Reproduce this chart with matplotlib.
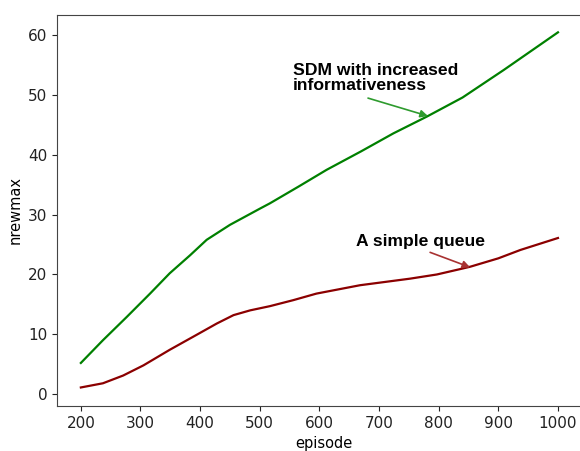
import matplotlib
matplotlib.use("Agg")
import matplotlib.pyplot as plt

# data
sdm_episode = [200, 237, 277, 316, 349, 383, 411, 450, 500, 517, 565, 612, 670, 724, 780, 840, 909, 1000]
sdm_nrewmax = [5.2, 9.0, 12.9, 16.8, 20.2, 23.2, 25.8, 28.3, 31.0, 31.9, 34.7, 37.5, 40.6, 43.6, 46.4, 49.6, 54.2, 60.5]

queue_episode = [200, 237, 271, 305, 349, 394, 428, 456, 484, 517, 556, 595, 668, 752, 797, 836, 853, 900, 937, 1000]
queue_nrewmax = [1.1, 1.8, 3.1, 4.8, 7.4, 9.9, 11.8, 13.2, 14.0, 14.7, 15.7, 16.8, 18.2, 19.3, 20.0, 20.9, 21.3, 22.7, 24.1, 26.1]

x_ticks = [200, 300, 400, 500, 600, 700, 800, 900, 1000]
y_ticks = [0, 10, 20, 30, 40, 50, 60]

fig = plt.figure(figsize=(5.8, 4.51), dpi=100)
ax = fig.add_axes([57 / 580, 45 / 451, 533 / 580, 391 / 451])

ax.plot(sdm_episode, sdm_nrewmax, color="green", lw=1.6)
ax.plot(queue_episode, queue_nrewmax, color="darkred", lw=1.6)

ax.set_xlim(160, 1053.7)
ax.set_ylim(-2.0, 63.4)
ax.set_xticks(x_ticks)
ax.set_yticks(y_ticks)
ax.tick_params(labelsize=11, colors="#222222")
ax.set_xlabel("episode", fontsize=10.5, labelpad=4)
ax.set_ylabel("nrewmax", fontsize=10.5, labelpad=4)
for s in ax.spines.values():
    s.set_color("#444444")
ax.spines["right"].set_visible(False)

ax.text(555.7, 55.35, "SDM with increased\ninformativeness", fontsize=12.6,
        fontweight="bold", family="Liberation Sans", va="top", ha="left",
        linespacing=1.0)
ax.annotate("", xy=(782, 46.5), xytext=(681.5, 49.5),
            arrowprops=dict(arrowstyle="-|>", color="#2e9b2e", lw=1.2,
                            shrinkA=0, shrinkB=0, mutation_scale=11))
ax.text(661.4, 25.5, "A simple queue", fontsize=12.6, fontweight="bold",
        family="Liberation Sans", va="center", ha="left")
ax.annotate("", xy=(852.7, 21.2), xytext=(785.6, 23.7),
            arrowprops=dict(arrowstyle="-|>", color="#a83232", lw=1.2,
                            shrinkA=0, shrinkB=0, mutation_scale=11))

fig.savefig("out.png", dpi=100)
